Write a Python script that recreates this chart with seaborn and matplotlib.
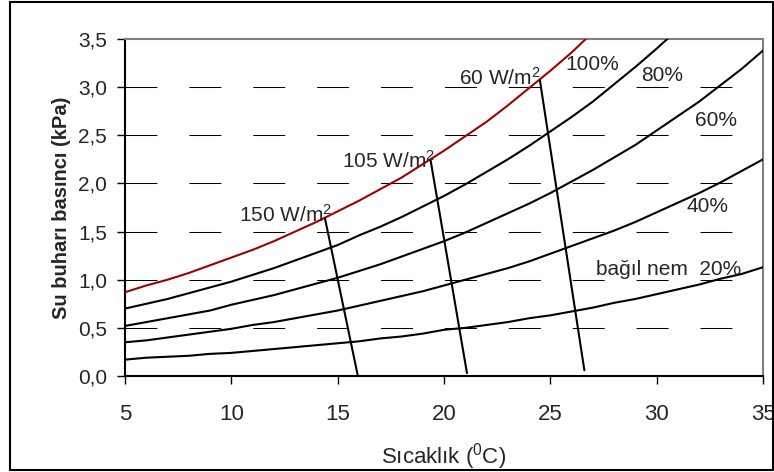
import matplotlib
matplotlib.use("Agg")
import matplotlib.pyplot as plt
from matplotlib.patches import Rectangle
import seaborn as sns
import pandas as pd

# ---------------- data ----------------
temps = list(range(5, 36))
rh_100 = [0.87, 0.94, 1.00, 1.07, 1.15, 1.23, 1.31, 1.40, 1.50, 1.60, 1.71, 1.82,
          1.94, 2.06, 2.20, 2.34, 2.49, 2.64, 2.81, 2.99, 3.17, 3.36, 3.57]
rh_80 = [0.70, 0.75, 0.80, 0.86, 0.92, 0.98, 1.05, 1.12, 1.20, 1.28, 1.36, 1.46,
         1.55, 1.65, 1.76, 1.87, 1.99, 2.12, 2.25, 2.39, 2.54, 2.69, 2.85, 3.03,
         3.21, 3.40, 3.60]
rh_60 = [0.52, 0.56, 0.60, 0.64, 0.68, 0.74, 0.79, 0.84, 0.90, 0.96, 1.02, 1.09,
         1.16, 1.24, 1.32, 1.40, 1.49, 1.59, 1.69, 1.79, 1.90, 2.02, 2.14, 2.27,
         2.40, 2.55, 2.70, 2.85, 3.02, 3.19, 3.38]
rh_40 = [0.35, 0.37, 0.40, 0.43, 0.46, 0.49, 0.53, 0.56, 0.60, 0.64, 0.68, 0.73,
         0.78, 0.83, 0.88, 0.94, 1.00, 1.06, 1.12, 1.19, 1.27, 1.35, 1.43, 1.51,
         1.60, 1.70, 1.80, 1.90, 2.01, 2.13, 2.25]
rh_20 = [0.17, 0.19, 0.20, 0.21, 0.23, 0.24, 0.26, 0.28, 0.30, 0.32, 0.34, 0.36,
         0.39, 0.41, 0.44, 0.48, 0.50, 0.53, 0.56, 0.60, 0.63, 0.67, 0.71, 0.76,
         0.80, 0.85, 0.90, 0.95, 1.01, 1.06, 1.13]

rh_names = ["100%", "80%", "60%", "40%", "bağıl nem  20%"]

# heat-flux lines (top point, bottom point)
heat_labels = ["150 W/m$^2$", "105 W/m$^2$", "60 W/m$^2$"]
heat_x = [[14.40, 15.95], [19.37, 21.08], [24.51, 26.60]]
heat_y = [[1.64, 0.00], [2.24, 0.03], [3.07, 0.06]]

x_ticks = [5, 10, 15, 20, 25, 30, 35]
y_ticks = [0.0, 0.5, 1.0, 1.5, 2.0, 2.5, 3.0, 3.5]
y_tick_labels = ["0,0", "0,5", "1,0", "1,5", "2,0", "2,5", "3,0", "3,5"]

# ---------------- style ----------------
sns.set_style("white")
plt.rcParams["font.family"] = ["Liberation Sans", "DejaVu Sans"]
plt.rcParams["mathtext.fontset"] = "custom"
plt.rcParams["mathtext.rm"] = "Liberation Sans"
plt.rcParams["mathtext.it"] = "Liberation Sans"
plt.rcParams["mathtext.default"] = "regular"
plt.rcParams["lines.scale_dashes"] = False

fig = plt.figure(figsize=(7.74, 4.72), dpi=100)
fig.patch.set_facecolor("white")
ax = fig.add_axes([125 / 774, 1 - 376 / 472, 638 / 774, 337 / 472])

# outer border
fig.patches.append(Rectangle((10 / 774, 2 / 472), 763 / 774, 468 / 472,
                             transform=fig.transFigure, fill=False,
                             edgecolor="black", linewidth=1.5))

# dashed horizontal gridlines
for yv in y_ticks[1:-1]:
    ax.axhline(yv, color="black", linewidth=0.75, linestyle=(0, (23, 23)), zorder=1)

# RH curves
series = [rh_100, rh_80, rh_60, rh_40, rh_20]
colors = ["#A00000", "black", "black", "black", "black"]
for name, vals, c in zip(rh_names, series, colors):
    df = pd.DataFrame({"T": temps[:len(vals)], "P": vals})
    sns.lineplot(data=df, x="T", y="P", ax=ax, color=c, linewidth=1.5, zorder=3)

# heat lines
for xs, ys in zip(heat_x, heat_y):
    df = pd.DataFrame({"T": xs, "P": ys})
    sns.lineplot(data=df, x="T", y="P", ax=ax, color="black", linewidth=1.5,
                 zorder=3, sort=False)

# annotations
fs = 15
ax.text(10.35, 1.60, heat_labels[0], fontsize=fs, ha="left", va="baseline")
ax.text(15.22, 2.16, heat_labels[1], fontsize=fs, ha="left", va="baseline")
ax.text(20.70, 3.02, heat_labels[2], fontsize=fs, ha="left", va="baseline")
ax.text(25.69, 3.18, rh_names[0], fontsize=fs, ha="left", va="baseline")
ax.text(29.29, 3.06, rh_names[1], fontsize=fs, ha="left", va="baseline")
ax.text(31.80, 2.60, rh_names[2], fontsize=fs, ha="left", va="baseline")
ax.text(31.42, 1.70, rh_names[3], fontsize=fs, ha="left", va="baseline")
ax.text(27.14, 1.05, rh_names[4], fontsize=fs, ha="left", va="baseline")

ax.set_xlim(5, 35)
ax.set_ylim(0, 3.5)
ax.set_xticks(x_ticks)
ax.set_xticklabels([str(t) for t in x_ticks], fontsize=16)
ax.set_yticks(y_ticks)
ax.set_yticklabels(y_tick_labels, fontsize=15)
ax.tick_params(axis="both", direction="out", length=6, width=1, color="black",
               left=True, bottom=True)
ax.tick_params(axis="x", pad=14)
ax.tick_params(axis="y", pad=7)

ax.set_xlabel("Sıcaklık ($^0$C)", fontsize=16, labelpad=12)
ax.set_ylabel("Su buharı basıncı (kPa)", fontsize=14.5, fontweight="bold", labelpad=5)

for side in ["left", "bottom"]:
    ax.spines[side].set_color("black")
    ax.spines[side].set_linewidth(1.5)
for side in ["top", "right"]:
    ax.spines[side].set_color("#808080")
    ax.spines[side].set_linewidth(1.5)

fig.savefig("out.png", dpi=100, facecolor="white")
